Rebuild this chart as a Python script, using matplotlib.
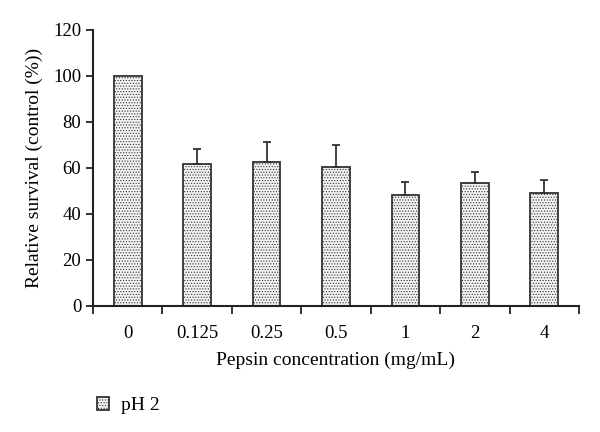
import numpy as np
import matplotlib.pyplot as plt

plt.rcParams['font.family'] = ['Liberation Serif', 'DejaVu Serif']
plt.rcParams['hatch.color'] = '#b4b4b4'
plt.rcParams['hatch.linewidth'] = 0.5

# data
conc = ['0', '0.125', '0.25', '0.5', '1', '2', '4']
survival = [100, 61.7, 62.6, 60.4, 48.2, 53.5, 49.2]
err_up = [0, 6.5, 8.7, 9.6, 5.7, 4.8, 5.5]

fig = plt.figure(figsize=(6, 4.32), dpi=100)
ax = fig.add_axes([0.155, 0.292, 0.81, 0.639])

x = np.arange(len(conc))
bars = ax.bar(x, survival, width=0.4, color='#f2f2f2', edgecolor='#333333',
              linewidth=1.3, hatch='......', label='pH 2', zorder=2)
ax.errorbar(x[1:], survival[1:], yerr=[np.zeros(len(x) - 1), err_up[1:]],
            fmt='none', ecolor='#333333', elinewidth=1.3, capsize=3,
            capthick=1.3, zorder=3)

ax.set_xlim(-0.5, len(conc) - 0.5)
ax.set_ylim(0, 120)
ax.set_yticks(np.arange(0, 121, 20))
ax.set_xticks(np.arange(-0.5, len(conc), 1))
ax.set_xticklabels([])
ax.set_xticks(x, minor=True)
ax.set_xticklabels(conc, minor=True)
ax.tick_params(axis='x', which='major', direction='out', length=6, width=1.3, color='#222222')
ax.tick_params(axis='x', which='minor', length=0, pad=14, labelsize=13.5)
ax.tick_params(axis='y', direction='out', length=5, width=1.3, labelsize=13.5, color='#222222')

for s in ['top', 'right']:
    ax.spines[s].set_visible(False)
for s in ['left', 'bottom']:
    ax.spines[s].set_linewidth(1.5)
    ax.spines[s].set_color('#222222')

ax.set_ylabel('Relative survival (control (%))', fontsize=14, labelpad=7)
ax.set_xlabel('Pepsin concentration (mg/mL)', fontsize=14, labelpad=7)

fig.legend(handles=[bars], loc='lower left', bbox_to_anchor=(0.132, 0.0),
           frameon=False, fontsize=14, handlelength=0.65, handleheight=0.65,
           handletextpad=0.6)

fig.savefig('out.png', dpi=100)
